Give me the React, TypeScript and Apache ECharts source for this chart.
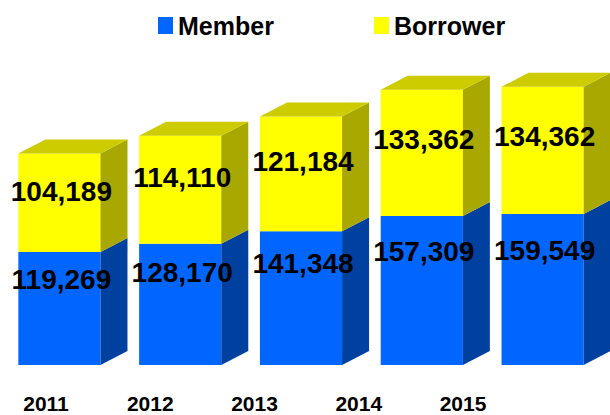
import React, { useEffect, useRef } from "react";
import * as echarts from "echarts";

const years = ["2011", "2012", "2013", "2014", "2015"];
const member = [119269, 128170, 141348, 157309, 159549];
const borrower = [104189, 114110, 121184, 133362, 134362];

const COLORS = {
  member: { front: "#0066ff", side: "#0041a0", top: "#0052cc" },
  borrower: { front: "#ffff00", side: "#a8a800", top: "#cccc00" },
};

const DX = 27;
const DY = 14;
const FONT = "'Liberation Sans', Arial, sans-serif";

function makeRender(kind: "member" | "borrower") {
  const c = COLORS[kind];
  return (params: any, api: any) => {
    const idx = api.value(0);
    const base = api.value(1);
    const top = api.value(2);
    const p0 = api.coord([idx, base]);
    const p1 = api.coord([idx, top]);
    const band = api.size([1, 0])[0];
    const w = band * 0.68;
    const cx = p0[0] - 1;
    const x0 = cx - w / 2;
    const x1 = cx + w / 2;
    const yb = p0[1];
    const yt = p1[1];
    const h = yb - yt;
    const children: any[] = [
      {
        type: "rect",
        shape: { x: x0, y: yt, width: w, height: h },
        style: { fill: c.front },
      },
      {
        type: "polygon",
        shape: {
          points: [
            [x1, yb],
            [x1 + DX, yb - DY],
            [x1 + DX, yt - DY],
            [x1, yt],
          ],
        },
        style: { fill: c.side },
      },
    ];
    if (kind === "borrower") {
      children.push({
        type: "polygon",
        shape: {
          points: [
            [x0, yt],
            [x0 + DX, yt - DY],
            [x1 + DX, yt - DY],
            [x1, yt],
          ],
        },
        style: { fill: c.top },
      });
    }
    const val = top - base;
    const ly = kind === "member" ? yt + h * 0.24 : yt + h * 0.39;
    children.push({
      type: "text",
      style: {
        text: val.toLocaleString("en-US"),
        x: cx + 2,
        y: ly,
        align: "center",
        verticalAlign: "middle",
        fill: "#000",
        font: `bold 28px ${FONT}`,
      },
    });
    return { type: "group", children };
  };
}

export default function App() {
  const ref = useRef<HTMLDivElement>(null);
  useEffect(() => {
    if (!ref.current) return;
    const chart = echarts.init(ref.current, undefined, { renderer: "svg" });
    const memberData = years.map((_, i) => [i, 0, member[i]]);
    const borrowerData = years.map((_, i) => [i, member[i], member[i] + borrower[i]]);
    const legendText = { fontFamily: FONT, fontWeight: "bold", fontSize: 25, color: "#000" };
    chart.setOption({
      animation: false,
      backgroundColor: "#ffffff",
      legend: [
        {
          data: ["Member"],
          left: 153,
          top: 8,
          icon: "rect",
          itemWidth: 15,
          itemHeight: 17,
          textStyle: legendText,
        },
        {
          data: ["Borrower"],
          left: 369,
          top: 8,
          icon: "rect",
          itemWidth: 15,
          itemHeight: 17,
          textStyle: legendText,
        },
      ],
      grid: [
        { left: 0, right: 6, top: 10, bottom: 50 },
        { left: 46, right: 147, top: 10, bottom: 50 },
      ],
      xAxis: [
        {
          type: "category",
          gridIndex: 0,
          data: years,
          boundaryGap: true,
          axisLine: { show: false },
          axisTick: { show: false },
          axisLabel: { show: false },
        },
        {
          type: "category",
          gridIndex: 1,
          data: years,
          boundaryGap: false,
          axisLine: { show: false },
          axisTick: { show: false },
          axisLabel: {
            margin: 28,
            fontFamily: FONT,
            fontWeight: "bold",
            fontSize: 21,
            color: "#000",
          },
        },
      ],
      yAxis: [
        { type: "value", gridIndex: 0, min: 0, max: 375000, show: false },
        { type: "value", gridIndex: 1, min: 0, max: 375000, show: false },
      ],
      series: [
        {
          name: "Member",
          type: "custom",
          xAxisIndex: 0,
          yAxisIndex: 0,
          itemStyle: { color: COLORS.member.front },
          renderItem: makeRender("member"),
          encode: { x: 0, y: [1, 2] },
          data: memberData,
        },
        {
          name: "Borrower",
          type: "custom",
          xAxisIndex: 0,
          yAxisIndex: 0,
          itemStyle: { color: COLORS.borrower.front },
          renderItem: makeRender("borrower"),
          encode: { x: 0, y: [1, 2] },
          data: borrowerData,
        },
      ],
    });
    return () => chart.dispose();
  }, []);
  return <div ref={ref} style={{ width: 610, height: 415, position: "absolute", left: 0, top: 0 }} />;
}
